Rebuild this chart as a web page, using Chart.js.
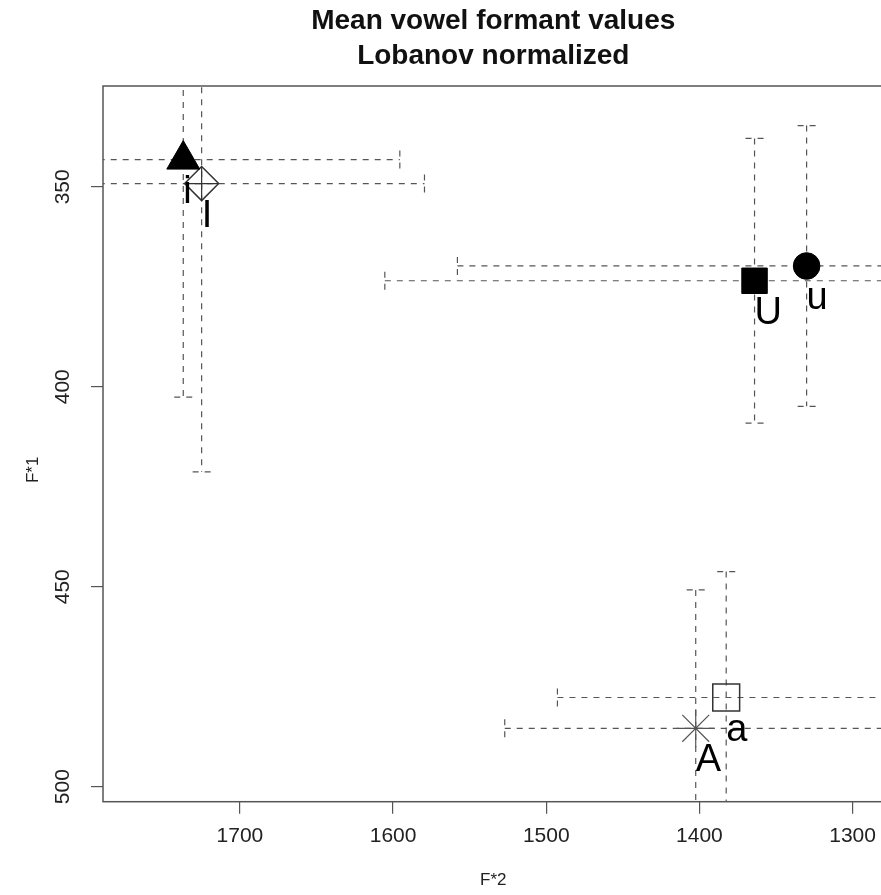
<!DOCTYPE html>
<html>
<head>
<meta charset="utf-8">
<title>Mean vowel formant values</title>
<script src="https://cdn.jsdelivr.net/npm/chart.js@4"></script>
<style>
  body { margin: 0; background: #fff; overflow: hidden; }
  canvas { display: block; }
</style>
</head>
<body>
<!-- the layout keeps 20px on the right for tick padding, so the canvas is
     wider than the window and the plot box ends just past the visible edge -->
<canvas id="vowelChart" width="904" height="895"></canvas>
<script>
// Vowel means (F*2 on x, F*1 on y) and one standard deviation each way
const vowels = ['i', 'I', 'U', 'u', 'a', 'A'];
const f2Means = [1737, 1725, 1364, 1330, 1382.5, 1402.4];
const f1Means = [343.2, 349.2, 373.5, 369.8, 477.7, 485.4];
const f2Sds = [141.4, 145.5, 241.4, 228, 110.2, 124.7];
const f1Sds = [59.4, 72.1, 35.6, 35.1, 31.5, 34.6];

const xTicks = [1700, 1600, 1500, 1400, 1300];
const yTicks = [350, 400, 450, 500];

const FONT = "'Liberation Sans', Arial, Helvetica, sans-serif";

// plotting symbols, one per vowel
const symbols = [
    { pointStyle: 'triangle', radius: 19, backgroundColor: '#000', borderColor: '#000', borderWidth: 1 },
    { pointStyle: 'rectRot', radius: 17, backgroundColor: 'rgba(0,0,0,0)', borderColor: '#333', borderWidth: 1.5 },
    { pointStyle: 'rect', radius: 18, backgroundColor: '#000', borderColor: '#000', borderWidth: 1 },
    { pointStyle: 'circle', radius: 13.3, backgroundColor: '#000', borderColor: '#000', borderWidth: 1 },
    { pointStyle: 'rect', radius: 19, backgroundColor: 'rgba(0,0,0,0)', borderColor: '#333', borderWidth: 1.5 },
    { pointStyle: 'star', radius: 19, backgroundColor: 'rgba(0,0,0,0)', borderColor: '#555', borderWidth: 1.2 }
];

const datasets = vowels.map((v, i) => ({
    label: v,
    data: [{ x: f2Means[i], y: f1Means[i] }],
    pointStyle: symbols[i].pointStyle,
    pointRadius: symbols[i].radius,
    pointBackgroundColor: symbols[i].backgroundColor,
    pointBorderColor: symbols[i].borderColor,
    pointBorderWidth: symbols[i].borderWidth
}));

// the plus inside the diamond for I
datasets.push({
    label: 'I+',
    data: [{ x: f2Means[1], y: f1Means[1] }],
    pointStyle: 'cross',
    pointRadius: 17,
    pointBorderColor: '#333',
    pointBorderWidth: 1.2
});

// dashed +/- 1 sd whiskers with end caps, clipped to the plot region
const whiskers = {
    id: 'whiskers',
    beforeDatasetsDraw(chart) {
        const { ctx, chartArea, scales: { x, y } } = chart;
        const cap = 9;
        ctx.save();
        ctx.beginPath();
        ctx.rect(chartArea.left, chartArea.top, chartArea.right - chartArea.left, chartArea.bottom - chartArea.top);
        ctx.clip();
        ctx.strokeStyle = '#555';
        ctx.lineWidth = 1.2;
        ctx.setLineDash([6, 6]);
        vowels.forEach((v, i) => {
            const px = x.getPixelForValue(f2Means[i]);
            const py = y.getPixelForValue(f1Means[i]);
            const xa = x.getPixelForValue(f2Means[i] + f2Sds[i]);
            const xb = x.getPixelForValue(f2Means[i] - f2Sds[i]);
            const ya = y.getPixelForValue(f1Means[i] - f1Sds[i]);
            const yb = y.getPixelForValue(f1Means[i] + f1Sds[i]);
            ctx.beginPath();
            ctx.moveTo(xa, py); ctx.lineTo(xb, py);
            ctx.moveTo(xa, py - cap); ctx.lineTo(xa, py + cap);
            ctx.moveTo(xb, py - cap); ctx.lineTo(xb, py + cap);
            ctx.moveTo(px, ya); ctx.lineTo(px, yb);
            ctx.moveTo(px - cap, ya); ctx.lineTo(px + cap, ya);
            ctx.moveTo(px - cap, yb); ctx.lineTo(px + cap, yb);
            ctx.stroke();
        });
        ctx.restore();
    }
};

// vowel names set just below and to the right of each mean
const vowelLabels = {
    id: 'vowelLabels',
    afterDatasetsDraw(chart) {
        const { ctx, scales: { x, y } } = chart;
        ctx.save();
        ctx.fillStyle = '#000';
        ctx.font = '38px ' + FONT;
        ctx.textAlign = 'left';
        ctx.textBaseline = 'alphabetic';
        vowels.forEach((v, i) => {
            ctx.fillText(v, x.getPixelForValue(f2Means[i]), y.getPixelForValue(f1Means[i]) + 43);
        });
        ctx.restore();
    }
};

// box around the plot region, plus the F*1 axis name (sits a little below centre)
const frame = {
    id: 'frame',
    afterDraw(chart) {
        const { ctx, chartArea } = chart;
        ctx.save();
        ctx.strokeStyle = '#555';
        ctx.lineWidth = 1.5;
        ctx.strokeRect(chartArea.left, chartArea.top, chartArea.right - chartArea.left, chartArea.bottom - chartArea.top);
        ctx.translate(33, (chartArea.top + chartArea.bottom) / 2 + 26);
        ctx.rotate(-Math.PI / 2);
        ctx.fillStyle = '#222';
        ctx.font = '17px ' + FONT;
        ctx.textAlign = 'center';
        ctx.textBaseline = 'middle';
        ctx.fillText('F*1', 0, 0);
        ctx.restore();
    }
};

new Chart(document.getElementById('vowelChart'), {
    type: 'scatter',
    data: { datasets: datasets },
    plugins: [whiskers, vowelLabels, frame],
    options: {
        responsive: false,
        animation: false,
        layout: { padding: 0 },
        plugins: {
            legend: { display: false },
            tooltip: { enabled: false },
            title: {
                display: true,
                fullSize: false,
                text: ['Mean vowel formant values', 'Lobanov normalized'],
                color: '#111',
                font: { family: FONT, size: 28, weight: 'bold', lineHeight: '35px' },
                padding: { top: 4, bottom: 12 }
            }
        },
        scales: {
            x: {
                type: 'linear',
                reverse: true,
                min: 1279.8,
                max: 1789.4,
                afterBuildTicks: scale => { scale.ticks = xTicks.map(v => ({ value: v })); },
                afterFit: scale => {
                    scale.height = 93.3;
                    scale.paddingLeft = 0;
                    scale.paddingRight = 0;
                },
                border: { display: false },
                grid: { drawOnChartArea: false, drawTicks: true, tickLength: 12, color: '#555', lineWidth: 1.2 },
                ticks: {
                    autoSkip: false, maxRotation: 0, minRotation: 0, padding: 10,
                    callback: v => String(v),
                    color: '#222', font: { family: FONT, size: 21 }
                },
                title: {
                    display: true, text: 'F*2', color: '#222',
                    font: { family: FONT, size: 17 },
                    padding: { top: 0, bottom: 4 }
                }
            },
            y: {
                type: 'linear',
                reverse: true,
                min: 324.8,
                max: 503.75,
                afterBuildTicks: scale => { scale.ticks = yTicks.map(v => ({ value: v })); },
                afterFit: scale => {
                    scale.width = 103;
                    scale.paddingTop = 0;
                    scale.paddingBottom = 0;
                },
                border: { display: false },
                grid: { drawOnChartArea: false, drawTicks: true, tickLength: 12, color: '#555', lineWidth: 1.2 },
                ticks: {
                    autoSkip: false, minRotation: 90, maxRotation: 90, crossAlign: 'center', padding: 10,
                    callback: v => String(v),
                    color: '#222', font: { family: FONT, size: 21 }
                }
            }
        }
    }
});
</script>
</body>
</html>
